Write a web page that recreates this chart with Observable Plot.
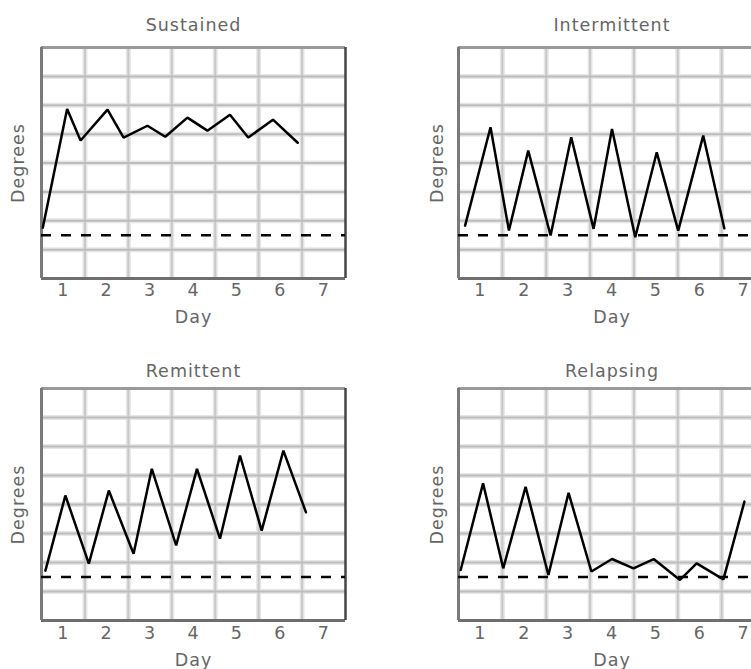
<!DOCTYPE html>
<html>
<head>
<meta charset="utf-8">
<script src="https://cdn.jsdelivr.net/npm/d3@7"></script>
<script src="https://cdn.jsdelivr.net/npm/@observablehq/plot@0.6"></script>
<style>
  html, body { margin: 0; padding: 0; background: #fff; }
  body { width: 751px; height: 669px; overflow: hidden; position: relative; }
  .panel { position: absolute; width: 395px; }
  .panel svg { max-width: none !important; display: block; }
  .panel svg text { letter-spacing: 1px; }
</style>
</head>
<body>
<div id="p1" class="panel" style="left:0px;top:0px"></div>
<div id="p2" class="panel" style="left:375px;top:0px"></div>
<div id="p3" class="panel" style="left:0px;top:340px"></div>
<div id="p4" class="panel" style="left:375px;top:340px"></div>
<script>
// ---- data (days on x, grid units on y) ----
const dayLabels = [1, 2, 3, 4, 5, 6, 7];
const gridDays = [1, 2, 3, 4, 5, 6];
const gridDegrees = [1, 2, 3, 4, 5, 6, 7];
const normalTemp = 1.5;

const sustainedDay = [0.03, 0.59, 0.9, 1.52, 1.89, 2.44, 2.85, 3.36, 3.82, 4.34, 4.76, 5.33, 5.9];
const sustainedDeg = [1.76, 5.87, 4.78, 5.85, 4.88, 5.29, 4.91, 5.57, 5.12, 5.67, 4.88, 5.5, 4.7];

const intermittentDay = [0.15, 0.73, 1.15, 1.59, 2.1, 2.57, 3.08, 3.5, 4.03, 4.52, 5.01, 5.58, 6.06];
const intermittentDeg = [1.83, 5.24, 1.66, 4.43, 1.49, 4.89, 1.72, 5.18, 1.43, 4.37, 1.66, 4.95, 1.74];

const remittentDay = [0.09, 0.55, 1.09, 1.55, 2.12, 2.54, 3.1, 3.58, 4.11, 4.57, 5.07, 5.57, 6.09];
const remittentDeg = [1.72, 4.31, 1.96, 4.48, 2.3, 5.23, 2.59, 5.23, 2.82, 5.69, 3.1, 5.86, 3.73];

const relapsingDay = [0.05, 0.56, 1.02, 1.53, 2.05, 2.51, 3.03, 3.5, 3.99, 4.45, 5.05, 5.43, 6.04, 6.52];
const relapsingDeg = [1.74, 4.73, 1.8, 4.61, 1.57, 4.4, 1.69, 2.12, 1.8, 2.12, 1.4, 1.97, 1.42, 4.1];

const titles = ["Sustained", "Intermittent", "Remittent", "Relapsing"];

const FONT = "DejaVu Sans";
const TEXT = "#666";
const FS = 17.5;

function panel(el, title, days, degs, o) {
  const data = days.map((d, i) => ({day: d, deg: degs[i]}));
  const chart = Plot.plot({
    width: o.width, height: o.height,
    marginLeft: o.ml, marginRight: o.mr, marginTop: o.mt, marginBottom: o.mb,
    x: {domain: [0, 7], axis: null},
    y: {domain: [0, 8], axis: null},
    style: {fontFamily: FONT, background: "transparent", overflow: "visible"},
    marks: [
      Plot.ruleX(gridDays, {stroke: "#e6e6e6", strokeWidth: 5}),
      Plot.ruleY(gridDegrees, {stroke: "#e6e6e6", strokeWidth: 5}),
      Plot.ruleX(gridDays, {stroke: "#c8c8c8", strokeWidth: 2}),
      Plot.ruleY(gridDegrees, {stroke: "#bcbcbc", strokeWidth: 2}),
      Plot.ruleY([8], {stroke: "#9a9a9a", strokeWidth: 3}),
      Plot.ruleY([0], {stroke: "#6e6e6e", strokeWidth: 3}),
      Plot.ruleX([0], {stroke: "#7a7a7a", strokeWidth: 3}),
      Plot.ruleX([7], {stroke: "#444", strokeWidth: 2.5}),
      Plot.ruleY([normalTemp], {stroke: "#000", strokeWidth: 2.6, strokeDasharray: "10,10"}),
      Plot.line(data, {x: "day", y: "deg", stroke: "#000", strokeWidth: 2.5, strokeLinejoin: "miter"}),
      Plot.text(dayLabels, {x: d => d - 0.5, y: 0, dy: o.tickDy, text: d => String(d),
        fontSize: FS, fill: TEXT, lineAnchor: "middle"}),
      Plot.text([title], {frameAnchor: "top", dy: o.titleDy, fontSize: FS, fill: TEXT,
        textAnchor: "middle", lineAnchor: "middle"}),
      Plot.text(["Day"], {frameAnchor: "bottom", dy: o.dayDy, fontSize: FS, fill: TEXT,
        textAnchor: "middle", lineAnchor: "middle"}),
      Plot.text(["Degrees"], {frameAnchor: "left", dx: o.degDx, rotate: -90, fontSize: FS, fill: TEXT,
        textAnchor: "middle", lineAnchor: "middle"})
    ]
  });
  document.getElementById(el).appendChild(chart);
}

const leftTop = {width: 375, height: 330, ml: 41, mr: 30, mt: 47, mb: 52, titleDy: -22, tickDy: 12, dayDy: 39, degDx: -23};
const rightTop = {width: 395, height: 330, ml: 83, mr: 5, mt: 47, mb: 52, titleDy: -22, tickDy: 12, dayDy: 39, degDx: -21};
const leftBot = {width: 375, height: 329, ml: 41, mr: 30, mt: 48, mb: 49, titleDy: -17, tickDy: 13, dayDy: 40, degDx: -23};
const rightBot = {width: 395, height: 329, ml: 83, mr: 5, mt: 48, mb: 49, titleDy: -17, tickDy: 13, dayDy: 40, degDx: -21};

panel("p1", titles[0], sustainedDay, sustainedDeg, leftTop);
panel("p2", titles[1], intermittentDay, intermittentDeg, rightTop);
panel("p3", titles[2], remittentDay, remittentDeg, leftBot);
panel("p4", titles[3], relapsingDay, relapsingDeg, rightBot);
</script>
</body>
</html>
